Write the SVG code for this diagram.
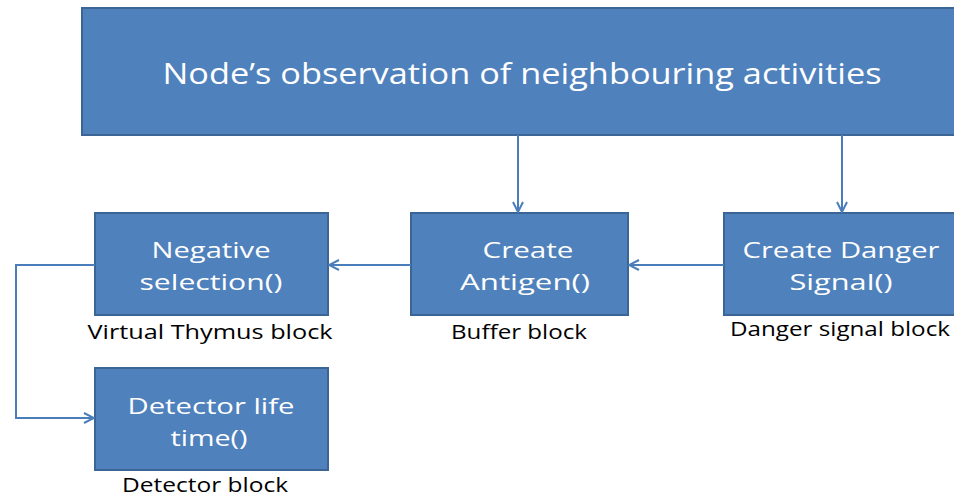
<svg xmlns="http://www.w3.org/2000/svg" width="954" height="497" viewBox="0 0 954 497">
<style>
.box{fill:#4F81BD;stroke:#3A6595;stroke-width:2}
.bt{fill:#FFFFFF;font-family:"Open Sans","Liberation Sans",sans-serif;font-size:22px;text-anchor:middle}
.lbl{fill:#000000;font-family:"Open Sans","Liberation Sans",sans-serif;font-size:19.5px;text-anchor:middle}
.con{fill:none;stroke:#4A7EBB;stroke-width:2}
</style>
<defs>
<marker id="arr" viewBox="0 0 12 12" refX="11" refY="6" markerWidth="12" markerHeight="12" markerUnits="userSpaceOnUse" orient="auto">
<polyline points="1,1 11,6 1,11" fill="none" stroke="#4A7EBB" stroke-width="2"/>
</marker>
</defs>
<rect width="954" height="497" fill="#FFFFFF"/>
<g id="node-observation">
<rect class="box" x="82" y="8" width="880" height="127"/>
<text x="522" y="84" fill="#FFFFFF" font-family="'Open Sans','Liberation Sans',sans-serif" font-size="29" text-anchor="middle" textLength="719" lengthAdjust="spacingAndGlyphs">Node’s observation of neighbouring activities</text>
</g>
<g id="negative-selection">
<rect class="box" x="95" y="213" width="233" height="102"/>
<text class="bt" x="211" y="258" textLength="119" lengthAdjust="spacingAndGlyphs">Negative</text>
<text class="bt" x="211" y="290" textLength="143" lengthAdjust="spacingAndGlyphs">selection()</text>
<text class="lbl" x="210" y="339" textLength="245" lengthAdjust="spacingAndGlyphs">Virtual Thymus  block</text>
</g>
<g id="create-antigen">
<rect class="box" x="411" y="213" width="217" height="102"/>
<text class="bt" x="528" y="258" textLength="91" lengthAdjust="spacingAndGlyphs">Create</text>
<text class="bt" x="525" y="290" textLength="130" lengthAdjust="spacingAndGlyphs">Antigen()</text>
<text class="lbl" x="519" y="339" textLength="136" lengthAdjust="spacingAndGlyphs">Buffer block</text>
</g>
<g id="create-danger-signal">
<rect class="box" x="724" y="213" width="240" height="102"/>
<text class="bt" x="841" y="258" textLength="197" lengthAdjust="spacingAndGlyphs">Create Danger</text>
<text class="bt" x="841" y="290" textLength="103" lengthAdjust="spacingAndGlyphs">Signal()</text>
<text class="lbl" x="840" y="336" textLength="220" lengthAdjust="spacingAndGlyphs">Danger signal block</text>
</g>
<g id="detector-life-time">
<rect class="box" x="95" y="368" width="233" height="102"/>
<text class="bt" x="211" y="414" textLength="167" lengthAdjust="spacingAndGlyphs">Detector life</text>
<text class="bt" x="209" y="446" textLength="77" lengthAdjust="spacingAndGlyphs">time()</text>
<text class="lbl" x="205" y="492" textLength="166" lengthAdjust="spacingAndGlyphs">Detector block</text>
</g>
<g id="connectors">
<line class="con" x1="518" y1="135" x2="518" y2="212" marker-end="url(#arr)"/>
<line class="con" x1="842" y1="135" x2="842" y2="212" marker-end="url(#arr)"/>
<line class="con" x1="724" y1="265" x2="629" y2="265" marker-end="url(#arr)"/>
<line class="con" x1="411" y1="265" x2="329" y2="265" marker-end="url(#arr)"/>
<polyline class="con" points="95,265 16,265 16,418 94,418" marker-end="url(#arr)"/>
</g>
</svg>
